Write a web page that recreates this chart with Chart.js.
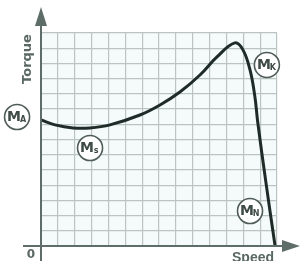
<!DOCTYPE html>
<html>
<head>
<meta charset="utf-8">
<script src="https://cdn.jsdelivr.net/npm/chart.js@4"></script>
<style>
  html, body { margin: 0; padding: 0; background: #fff; }
  #wrap { width: 300px; height: 261px; position: relative; }
</style>
</head>
<body>
<div id="wrap"><canvas id="chart"></canvas></div>
<script>
// ==================== DATA ====================
const speed  = [0, 0.83, 1.9, 2.9, 4.09, 5.87, 7.06, 8.24, 9.43, 10.44, 11.5, 11.98, 12.4, 12.69, 12.85, 13.34, 13.88];
const torque = [8.28, 7.96, 7.76, 7.76, 7.96, 8.61, 9.27, 10.12, 11.24, 12.43, 13.35, 12.89, 11.57, 9.8, 8.2, 4.2, 0.05];

const axisLabelX = 'Speed';
const axisLabelY = 'Torque';
const originLabel = '0';

// circled markers: name, subscript, x, y (in chart units)
const markNames = ['M', 'M', 'M', 'M'];
const markSubs  = ['A', 's', 'K', 'N'];
const markX     = [-1.42, 2.91, 13.4, 12.4];
const markY     = [8.48, 6.44, 11.9, 2.3];

// ==================== COLORS ====================
const gridColor = '#bcc4c2';
const axisColor = '#5f6d69';
const curveColor = '#1f2b27';
const textColor = '#5a6864';

// ==================== PLUGIN ====================
const decorPlugin = {
    id: 'decor',
    beforeDraw(chart) {
        const { ctx, chartArea: a } = chart;
        ctx.save();
        ctx.fillStyle = '#f5fbfb';
        ctx.fillRect(a.left, a.top, a.right - a.left, a.bottom - a.top);
        ctx.restore();
    },
    afterDatasetsDraw(chart) {
        const { ctx, scales } = chart;
        const x0 = scales.x.getPixelForValue(0);
        const y0 = scales.y.getPixelForValue(0);
        ctx.save();

        // axes
        ctx.strokeStyle = axisColor;
        ctx.fillStyle = axisColor;
        ctx.lineWidth = 2;
        ctx.beginPath();
        ctx.moveTo(x0, chart.height);
        ctx.lineTo(x0, 22);
        ctx.moveTo(23, y0);
        ctx.lineTo(286, y0);
        ctx.stroke();

        ctx.beginPath();
        ctx.moveTo(x0, 7);
        ctx.lineTo(x0 - 6, 26);
        ctx.lineTo(x0 + 6, 26);
        ctx.closePath();
        ctx.fill();

        ctx.beginPath();
        ctx.moveTo(300, y0);
        ctx.lineTo(282, y0 - 6);
        ctx.lineTo(282, y0 + 6);
        ctx.closePath();
        ctx.fill();

        // texts
        ctx.fillStyle = textColor;
        ctx.font = 'bold 13px "DejaVu Sans", sans-serif';
        ctx.textAlign = 'center';
        ctx.textBaseline = 'middle';
        ctx.save();
        ctx.translate(28, 59);
        ctx.rotate(-Math.PI / 2);
        ctx.fillText(axisLabelY, 0, 0);
        ctx.restore();

        ctx.textBaseline = 'top';
        ctx.font = '600 14px "Liberation Sans", sans-serif';
        ctx.fillText(axisLabelX, 253, 251);
        ctx.font = 'bold 12px "DejaVu Sans", sans-serif';
        ctx.fillText(originLabel, 31, 249);

        // circled markers
        markNames.forEach((m, i) => {
            const cx = scales.x.getPixelForValue(markX[i]);
            const cy = scales.y.getPixelForValue(markY[i]);
            ctx.beginPath();
            ctx.arc(cx, cy, 12.5, 0, Math.PI * 2);
            ctx.fillStyle = '#ffffff';
            ctx.fill();
            ctx.lineWidth = 1.6;
            ctx.strokeStyle = '#4f5c58';
            ctx.stroke();

            ctx.fillStyle = '#3f4b47';
            ctx.font = 'bold 14px "DejaVu Sans", sans-serif';
            ctx.textBaseline = 'middle';
            ctx.textAlign = 'center';
            ctx.fillText(m, cx - 3, cy);
            ctx.font = 'bold 8px "DejaVu Sans", sans-serif';
            ctx.fillText(markSubs[i], cx + 6, cy + 3);
        });

        ctx.restore();
    }
};

// ==================== CHART ====================
const ctx = document.getElementById('chart').getContext('2d');

const chart = new Chart(ctx, {
    type: 'line',
    data: {
        datasets: [{
            data: speed.map((s, i) => ({ x: s, y: torque[i] })),
            borderColor: curveColor,
            borderWidth: 3,
            pointRadius: 0,
            tension: 0.4,
            fill: false
        }]
    },
    options: {
        animation: false,
        responsive: true,
        maintainAspectRatio: false,
        layout: { padding: { left: 41, right: 23, top: 33, bottom: 15 } },
        plugins: {
            legend: { display: false },
            tooltip: { enabled: false }
        },
        scales: {
            x: {
                type: 'linear',
                min: 0,
                max: 14,
                ticks: { display: false, stepSize: 1 },
                grid: { color: gridColor, lineWidth: 1.2, drawTicks: false },
                border: { display: false }
            },
            y: {
                type: 'linear',
                min: 0,
                max: 14,
                ticks: { display: false, stepSize: 1 },
                grid: { color: gridColor, lineWidth: 1.2, drawTicks: false },
                border: { display: false }
            }
        }
    },
    plugins: [decorPlugin]
});
</script>
</body>
</html>
